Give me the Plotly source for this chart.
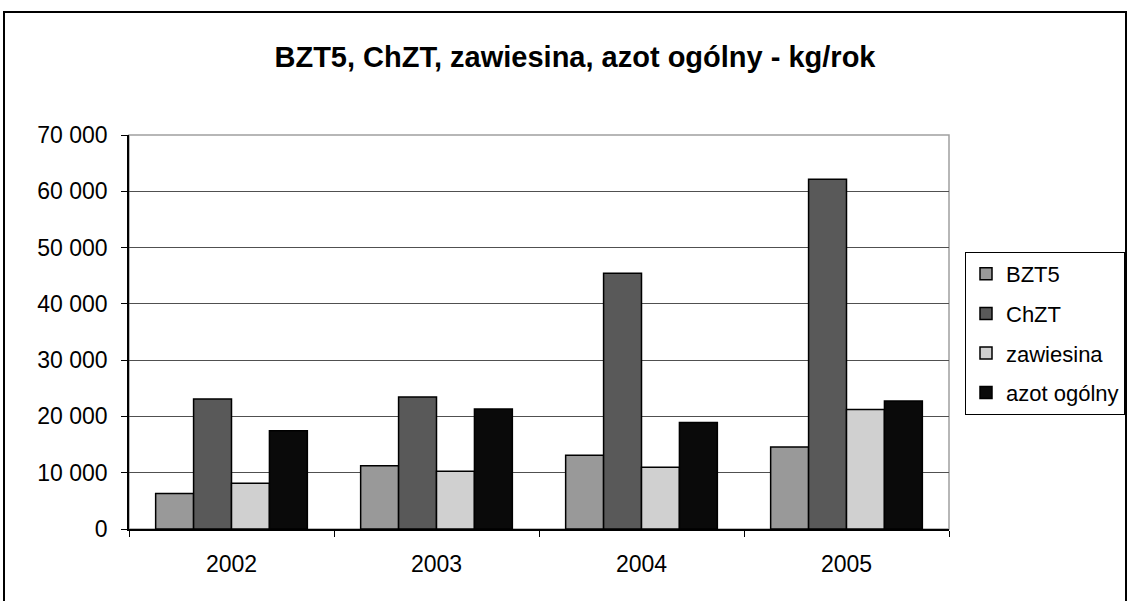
import plotly.graph_objects as go

years = ["2002", "2003", "2004", "2005"]
series_names = ["BZT5", "ChZT", "zawiesina", "azot ogólny"]
bzt5 = [6300, 11250, 13100, 14550]
chzt = [23100, 23450, 45450, 62150]
zawiesina = [8150, 10250, 10950, 21250]
azot = [17450, 21300, 18900, 22750]
colors = ["#999999", "#595959", "#d0d0d0", "#0a0a0a"]
y_ticks = [0, 10000, 20000, 30000, 40000, 50000, 60000, 70000]

fig = go.Figure()
for i, (name, vals) in enumerate(zip(series_names, [bzt5, chzt, zawiesina, azot])):
    fig.add_trace(go.Bar(
        x=years, y=vals, name=name, legendgroup=name,
        marker=dict(color=colors[i], line=dict(color="#000000", width=1.5)),
    ))

W, H = 1127, 601
L, R, T, B = 129, 949, 135, 529
pw, ph = R - L, B - T

def px_x(p):
    return (p - L) / pw

def px_y(p):
    return (B - p) / ph

FONT = "Liberation Sans, Arial, sans-serif"

fig.update_layout(
    width=W, height=H, autosize=False,
    margin=dict(l=L, r=W - R, t=T, b=H - B, autoexpand=False),
    paper_bgcolor="white", plot_bgcolor="white",
    font=dict(family=FONT, size=23, color="#000000"),
    separators=". ",
    barmode="group", bargap=0.26, bargroupgap=0,
    title=dict(text="<b>BZT5, ChZT, zawiesina, azot ogólny - kg/rok</b>",
               x=575 / W, xanchor="center", y=1 - 57 / H, yanchor="middle",
               font=dict(size=29, family=FONT)),
    legend=dict(x=px_x(965), y=px_y(252), xanchor="left", yanchor="top",
                bordercolor="#000000", borderwidth=1, bgcolor="white",
                tracegroupgap=8, traceorder="grouped",
                font=dict(size=22), itemwidth=30),
    xaxis=dict(type="category", showline=True, linecolor="#000000", linewidth=1.5,
               ticks="outside", tickson="boundaries", ticklen=6, tickcolor="#000000",
               showgrid=False, tickfont=dict(size=23), ticklabelstandoff=14),
    yaxis=dict(range=[0, 70000], tickvals=y_ticks, tickformat=",d",
               showline=True, linecolor="#000000", linewidth=1.5,
               ticks="outside", ticklen=6, tickcolor="#000000",
               showgrid=True, gridcolor="#505050", gridwidth=1,
               zeroline=False, tickfont=dict(size=23), ticklabelstandoff=9),
    shapes=[
        dict(type="rect", xref="paper", yref="paper", x0=0, x1=1, y0=0, y1=1,
             line=dict(color="#a0a0a0", width=1.5), layer="below"),
        dict(type="rect", xref="paper", yref="paper",
             x0=px_x(4), x1=px_x(1126), y0=px_y(620), y1=px_y(12),
             line=dict(color="#000000", width=2)),
    ],
)

fig.write_html(
    "out.html",
    config={"responsive": False, "displayModeBar": False},
    post_script=(
        "document.documentElement.style.overflow='hidden';"
        "document.body.style.overflow='hidden';"
        "document.body.style.margin='0';"
    ),
)
